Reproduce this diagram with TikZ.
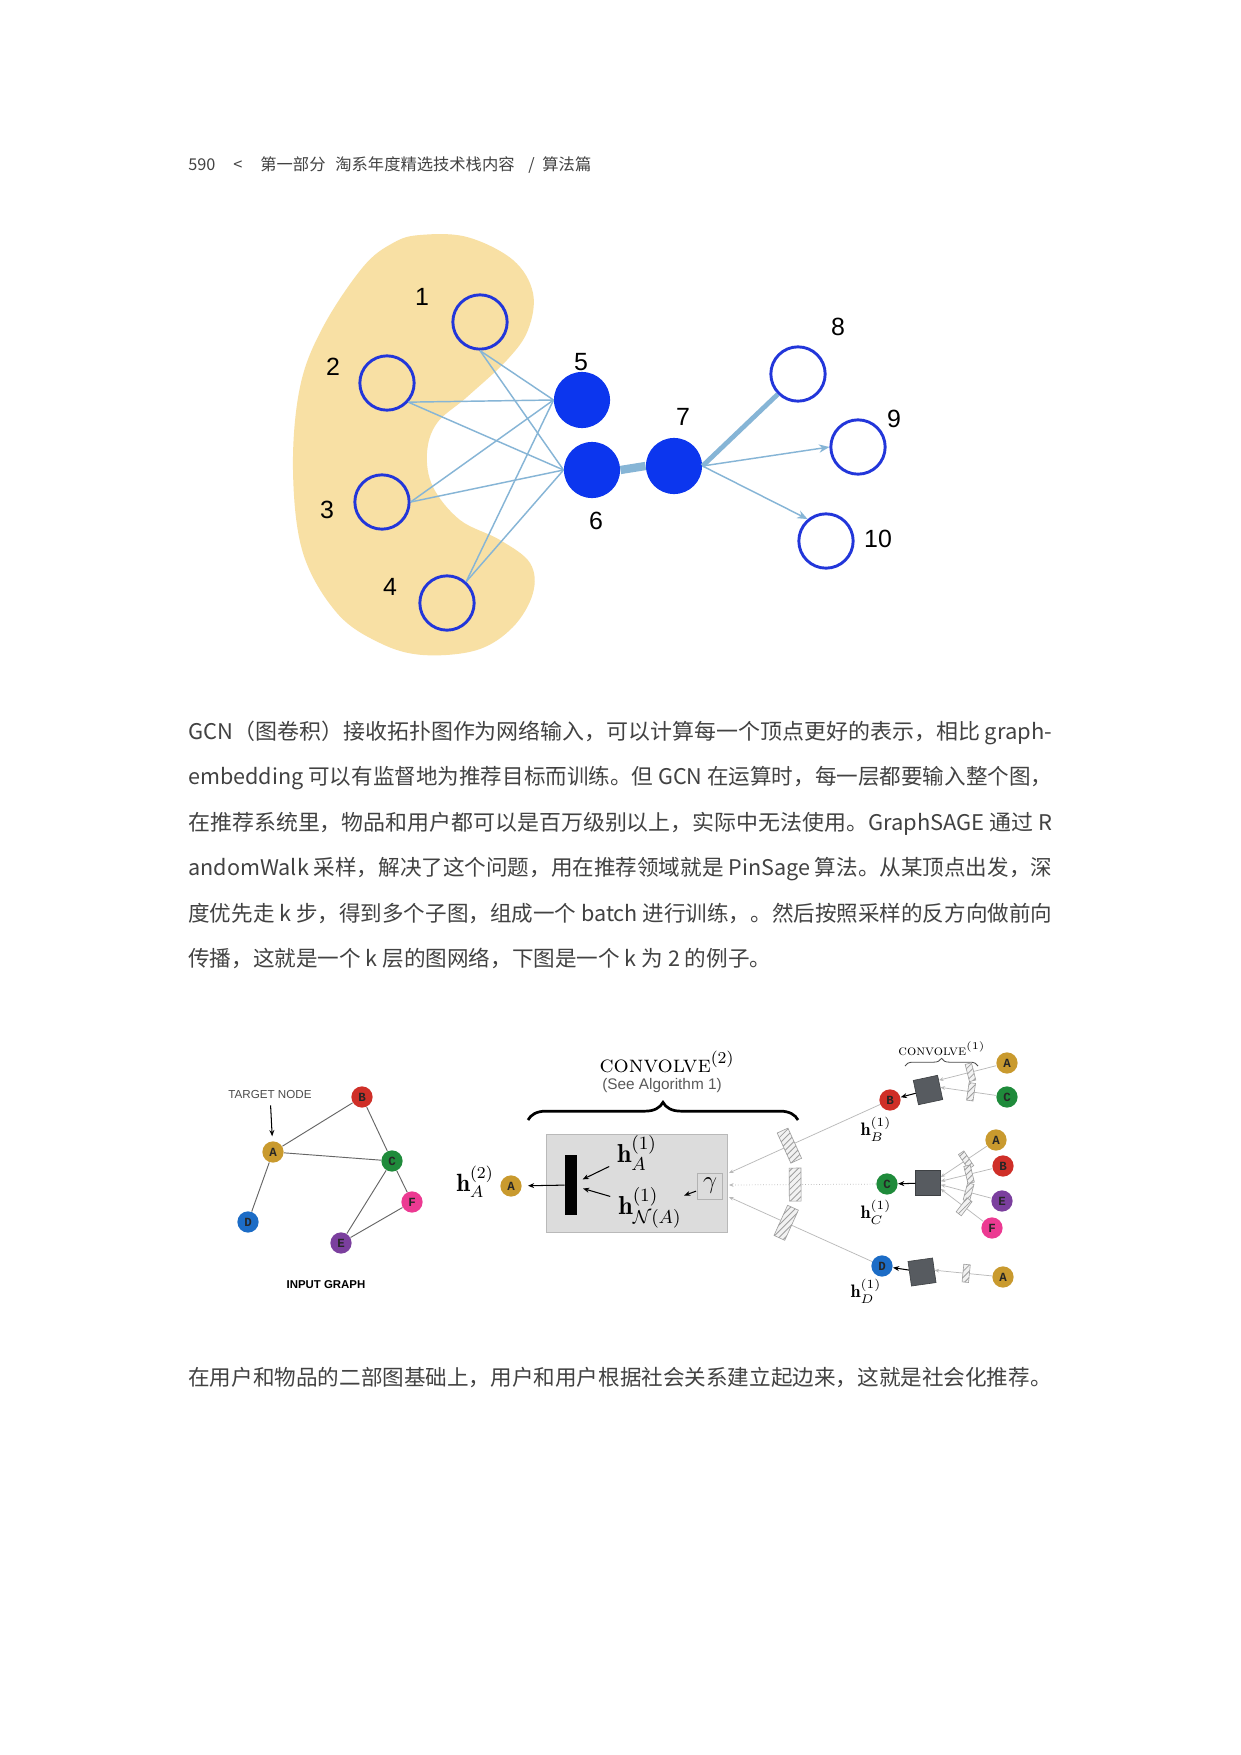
\documentclass[tikz,border=0pt]{standalone}
\usepackage{fontspec}
\usepackage{graphicx}
\usetikzlibrary{positioning,arrows.meta,patterns,decorations.pathreplacing}

\newfontfamily\cjkfont{Noto Sans CJK SC}
\newfontfamily\arialfont{Liberation Sans}
\newfontfamily\courfont{Liberation Mono}

\definecolor{blobyellow}{HTML}{F8E0A4}
\definecolor{ringblue}{HTML}{2236DA}
\definecolor{hubblue}{HTML}{0C36EE}
\definecolor{edgeblue}{HTML}{86B5D6}
\definecolor{txtgray}{HTML}{424242}
\definecolor{goldA}{HTML}{C99A2E}
\definecolor{redB}{HTML}{CF2F28}
\definecolor{greenC}{HTML}{1F8B3B}
\definecolor{blueD}{HTML}{1C6CC6}
\definecolor{purpleE}{HTML}{7B3F9E}
\definecolor{pinkF}{HTML}{EC3A92}
\definecolor{sqgray}{HTML}{575B60}
\definecolor{boxgray}{HTML}{DCDCDC}

\tikzset{
  ring/.style={circle, draw=ringblue, line width=1.4pt, minimum size=0.92cm, inner sep=0pt},
  hub/.style={circle, fill=hubblue, minimum size=0.95cm, inner sep=0pt},
  numlbl/.style={font=\arialfont\fontsize{12}{12}\selectfont},
  link/.style={draw=edgeblue, line width=0.7pt},
  gnode/.style={circle, minimum size=0.36cm, inner sep=0pt, text=black!85,
    font=\courfont\bfseries\fontsize{6}{6}\selectfont},
  gedge/.style={draw=black!60, line width=0.45pt},
  hatch/.style={solid, draw=gray!75, line width=0.3pt, inner sep=0pt,
    preaction={fill=gray!10}, pattern=north east lines, pattern color=gray!75},
  aggsq/.style={fill=sqgray, draw=sqgray!70!black, line width=0.3pt, minimum size=0.42cm, inner sep=0pt},
  feed/.style={draw=gray!55, line width=0.35pt, -{Stealth[length=2.2pt,width=1.8pt]}},
  pointer/.style={draw=black, line width=0.5pt, -{Stealth[length=3pt,width=2.4pt]}},
  body/.style={anchor=base west, inner sep=0pt, text=txtgray,
    font=\cjkfont\fontsize{10.4}{12}\selectfont},
  header/.style={anchor=base west, inner sep=0pt, text=txtgray,
    font=\cjkfont\fontsize{7.85}{9}\selectfont},
}

\begin{document}
\begin{tikzpicture}[x=0.016935cm, y=-0.016935cm]
  \fill[white] (0,0) rectangle (1240,1755);
  \useasboundingbox (0,0) rectangle (1240,1755);

  % page header
  \node[header] (pnum) at (188,170) {590};
  \node[header] (plt) at (233,170) {<};
  \node[header] (part) at (260,170) {第一部分};
  \node[header] (book) at (335,170) {淘系年度精选技术栈内容};
  \node[header] (slash) at (528,170) {/};
  \node[header] (chap) at (542,170) {算法篇};

  % sampled neighbourhood (top figure)
  \fill[blobyellow] plot[smooth cycle, tension=0.6] coordinates {
    (420,235) (467,237) (513,260) (533,293) (528,330) (507,360) (467,397)
    (437,423) (427,453) (433,487) (460,520) (500,540) (530,563) (533,593)
    (513,627) (477,650) (423,655) (380,643) (337,613) (303,553) (293,470)
    (300,387) (323,327) (363,267) (393,243)};

  \node[ring] (n1) at (480,322) {};
  \node[ring] (n2) at (387,383) {};
  \node[ring] (n3) at (382,502) {};
  \node[ring] (n4) at (447,603) {};
  \node[hub] (n5) at (582,400) {};
  \node[hub] (n6) at (592,470) {};
  \node[hub] (n7) at (674,466) {};
  \node[ring] (n8) at (798,374) {};
  \node[ring] (n9) at (858,447) {};
  \node[ring] (n10) at (826,541) {};

  \node[numlbl] (l1) at (422,297) {1};
  \node[numlbl] (l2) at (333,367) {2};
  \node[numlbl] (l3) at (327,510) {3};
  \node[numlbl] (l4) at (390,587) {4};
  \node[numlbl] (l5) at (581,362) {5};
  \node[numlbl] (l6) at (596,521) {6};
  \node[numlbl] (l7) at (683,417) {7};
  \node[numlbl] (l8) at (838,327) {8};
  \node[numlbl] (l9) at (894,419) {9};
  \node[numlbl] (l10) at (878,539) {10};

  \foreach \src/\ang in {n1/-90, n2/-42, n3/0, n4/48} {
    \draw[link] (\src.\ang) -- (n5.west);
    \draw[link] (\src.\ang) -- (n6.west);
  }
  \draw[draw=edgeblue, line width=4pt] (n6.east) -- (n7.west);
  \draw[draw=edgeblue, line width=2.3pt] (n7.east) -- (n8.-135);
  \draw[link, -{Stealth[length=5pt,width=4pt]}] (n7.east) -- (n9.west);
  \draw[link, -{Stealth[length=5pt,width=4pt]}] (n7.east) -- (n10.130);

  % paragraph
  \node[body] (p1) at (188,739) {\resizebox{14.63cm}{\height}{GCN（图卷积）接收拓扑图作为网络输入，可以计算每一个顶点更好的表示，相比 graph-}};
  \node[body] (p2) at (188,784) {\resizebox{14.63cm}{\height}{embedding 可以有监督地为推荐目标而训练。但 GCN 在运算时，每一层都要输入整个图，}};
  \node[body] (p3) at (188,830) {\resizebox{14.63cm}{\height}{在推荐系统里，物品和用户都可以是百万级别以上，实际中无法使用。GraphSAGE 通过 R}};
  \node[body] (p4) at (188,875) {\resizebox{14.63cm}{\height}{andomWalk 采样，解决了这个问题，用在推荐领域就是 PinSage 算法。从某顶点出发，深}};
  \node[body] (p5) at (188,921) {\resizebox{14.63cm}{\height}{度优先走 k 步，得到多个子图，组成一个 batch 进行训练，。然后按照采样的反方向做前向}};
  \node[body] (p6) at (188,966) {传播，这就是一个 k 层的图网络，下图是一个 k 为 2 的例子。};

  % input graph
  \node[gnode, fill=goldA] (gA) at (273,1152) {A};
  \node[gnode, fill=redB] (gB) at (362,1097) {B};
  \node[gnode, fill=greenC] (gC) at (392,1161) {C};
  \node[gnode, fill=blueD] (gD) at (248,1222) {D};
  \node[gnode, fill=purpleE] (gE) at (341,1243) {E};
  \node[gnode, fill=pinkF] (gF) at (412,1202) {F};
  \foreach \u/\v in {gA/gB, gA/gC, gA/gD, gB/gC, gC/gE, gC/gF, gE/gF}
    \draw[gedge] (\u) -- (\v);
  \node[font=\arialfont\fontsize{5.6}{6}\selectfont, text=black!70] (target) at (270,1094) {TARGET NODE};
  \draw[pointer, shorten >=0.08cm] (target) -- (gA);
  \node[font=\arialfont\bfseries\fontsize{5.5}{6}\selectfont] (inlbl) at (326,1285) {INPUT GRAPH};

  % convolve (2)
  \node[font=\fontsize{11.5}{13}\selectfont] (conv2) at (667,1062) {\textsc{convolve}$^{(2)}$};
  \node[font=\arialfont\fontsize{7.4}{8}\selectfont, text=black!65] (algo) at (662,1086) {(See Algorithm 1)};
  \coordinate (braceL) at (528,1120);
  \coordinate (braceR) at (798,1120);
  \draw[decorate, decoration={brace, amplitude=0.3cm}, line width=1.3pt] (braceL) -- (braceR);

  \node[draw=gray!55, fill=boxgray, minimum width=3.07cm, minimum height=1.66cm, inner sep=0pt] (convbox) at (637,1183) {};
  \node[fill=black, minimum width=0.2cm, minimum height=1.03cm, inner sep=0pt] (bar) at (571,1185) {};
  \node[font=\fontsize{12.5}{14}\selectfont, inner sep=1pt] (hA1) at (637,1153) {$\mathbf{h}_A^{(1)}$};
  \node[font=\fontsize{12.5}{14}\selectfont, inner sep=1pt] (hN1) at (650,1208) {$\mathbf{h}_{\mathcal{N}(A)}^{(1)}$};
  \node[draw=gray!60, minimum width=0.42cm, minimum height=0.44cm, inner sep=0pt, font=\fontsize{12}{12}\selectfont] (gam) at (710,1186) {$\gamma$};
  \draw[pointer, shorten <=0.1cm, shorten >=0.1cm] (hA1) -- (bar);
  \draw[pointer, shorten <=0.1cm, shorten >=0.1cm] (hN1) -- (bar);
  \draw[pointer, shorten <=0.02cm] (gam) -- (hN1);

  \node[gnode, fill=goldA] (mA) at (511,1186) {A};
  \node[font=\fontsize{12}{14}\selectfont] (hA2) at (475,1182) {$\mathbf{h}_A^{(2)}$};
  \draw[pointer, shorten >=0.1cm] (bar) -- (mA);

  % first-layer embeddings
  \node[gnode, fill=redB] (rB) at (890,1100) {B};
  \node[gnode, fill=greenC] (rC) at (887,1184) {C};
  \node[gnode, fill=blueD] (rD) at (882,1266) {D};
  \node[font=\fontsize{8.7}{10}\selectfont] (hB1) at (876,1129) {$\mathbf{h}_B^{(1)}$};
  \node[font=\fontsize{8.7}{10}\selectfont] (hC1) at (876,1212) {$\mathbf{h}_C^{(1)}$};
  \node[font=\fontsize{8.7}{10}\selectfont] (hD1) at (866,1291) {$\mathbf{h}_D^{(1)}$};

  \coordinate (inB) at (729,1173);
  \coordinate (inC) at (729,1185);
  \coordinate (inD) at (729,1197);
  \draw[feed] (rB) -- (inB) node[hatch, sloped, pos=0.6, minimum width=0.2cm, minimum height=0.56cm] (hatB) {};
  \draw[feed, densely dotted] (rC) -- (inC) node[hatch, sloped, pos=0.55, minimum width=0.2cm, minimum height=0.56cm] (hatC) {};
  \draw[feed] (rD) -- (inD) node[hatch, sloped, pos=0.6, minimum width=0.2cm, minimum height=0.56cm] (hatD) {};

  % convolve (1)
  \node[font=\fontsize{7}{8}\selectfont] (conv1) at (942,1049) {\textsc{convolve}$^{(1)}$};
  \coordinate (sbraceL) at (905,1066);
  \coordinate (sbraceR) at (978,1066);
  \draw[decorate, decoration={brace, amplitude=0.13cm}, line width=0.4pt, black!70] (sbraceL) -- (sbraceR);

  \node[aggsq, rotate=12] (sqB) at (928,1090) {};
  \node[aggsq] (sqC) at (928,1183) {};
  \node[aggsq, rotate=8] (sqD) at (922,1272) {};
  \draw[pointer] (sqB) -- (rB);
  \draw[pointer] (sqC) -- (rC);
  \draw[pointer] (sqD) -- (rD);

  \node[gnode, fill=goldA] (tA) at (1007,1063) {A};
  \node[gnode, fill=greenC] (tC) at (1007,1097) {C};
  \node[gnode, fill=goldA] (uA) at (996,1140) {A};
  \node[gnode, fill=redB] (uB) at (1003,1166) {B};
  \node[gnode, fill=purpleE] (uE) at (1002,1201) {E};
  \node[gnode, fill=pinkF] (uF) at (992,1228) {F};
  \node[gnode, fill=goldA] (vA) at (1003,1277) {A};

  \foreach \leaf/\agg/\tip in {tA/sqB/30, tC/sqB/0, uA/sqC/25, uB/sqC/8, uE/sqC/-8, uF/sqC/-25, vA/sqD/0}
    \draw[feed] (\leaf) -- (\agg.\tip) node[hatch, sloped, pos=0.45, minimum width=0.11cm, minimum height=0.3cm] {};

  % closing line
  \node[body] (p7) at (188,1385) {在用户和物品的二部图基础上，用户和用户根据社会关系建立起边来，这就是社会化推荐。};
\end{tikzpicture}
\end{document}
